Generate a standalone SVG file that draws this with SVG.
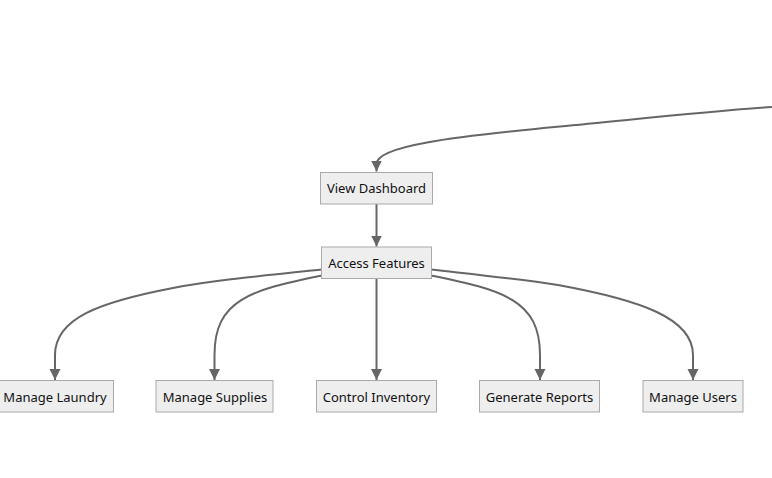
<svg xmlns="http://www.w3.org/2000/svg" width="772" height="478" viewBox="0 0 772 478">
<style>
.n rect{fill:#eee;stroke:#aaa;stroke-width:1}
.n text{font-family:"Noto Sans",sans-serif;font-size:13px;fill:#111;text-anchor:middle}
.c path{fill:none;stroke:#666;stroke-width:2}
</style>
<defs><marker id="a" markerUnits="userSpaceOnUse" markerWidth="14" markerHeight="14" refX="11" refY="7" orient="auto"><path d="M0 1.500L11 7L0 12.500Z" fill="#666"/></marker></defs>
<rect width="772" height="478" fill="#fff"/>
<g id="connectors" class="c">
<path marker-end="url(#a)" d="M772 107C700 112 630 120 560 126.500C450 137 376.500 146 376.500 164V171.500"/>
<path marker-end="url(#a)" d="M376.500 204V246.500"/>
<path marker-end="url(#a)" d="M322 269.500C250 277 210 281 173 288C100 302 55 318 55 355V380"/>
<path marker-end="url(#a)" d="M322 275.500C250 290 214.500 300 214.500 355V380"/>
<path marker-end="url(#a)" d="M376.500 279V380"/>
<path marker-end="url(#a)" d="M431 275.500C503 290 540 300 540 355V380"/>
<path marker-end="url(#a)" d="M431 269.500C480 275 520 279 558 285C640 300 693 318 693 355V380"/>
</g>
<g id="view-dashboard" class="n"><rect x="320.500" y="172.500" width="112" height="31.500"/><text x="376.500" y="193">View Dashboard</text></g>
<g id="access-features" class="n"><rect x="321.500" y="247" width="110" height="31.500"/><text x="376.500" y="268">Access Features</text></g>
<g id="manage-laundry" class="n"><rect x="-3.500" y="380.500" width="117" height="31.500"/><text x="55" y="401.500">Manage Laundry</text></g>
<g id="manage-supplies" class="n"><rect x="156" y="380.500" width="117" height="31.500"/><text x="215" y="401.500">Manage Supplies</text></g>
<g id="control-inventory" class="n"><rect x="316.500" y="380.500" width="120" height="31.500"/><text x="376.500" y="401.500">Control Inventory</text></g>
<g id="generate-reports" class="n"><rect x="479.500" y="380.500" width="120" height="31.500"/><text x="539.500" y="401.500">Generate Reports</text></g>
<g id="manage-users" class="n"><rect x="643" y="380.500" width="100" height="31.500"/><text x="693" y="401.500">Manage Users</text></g>
</svg>
